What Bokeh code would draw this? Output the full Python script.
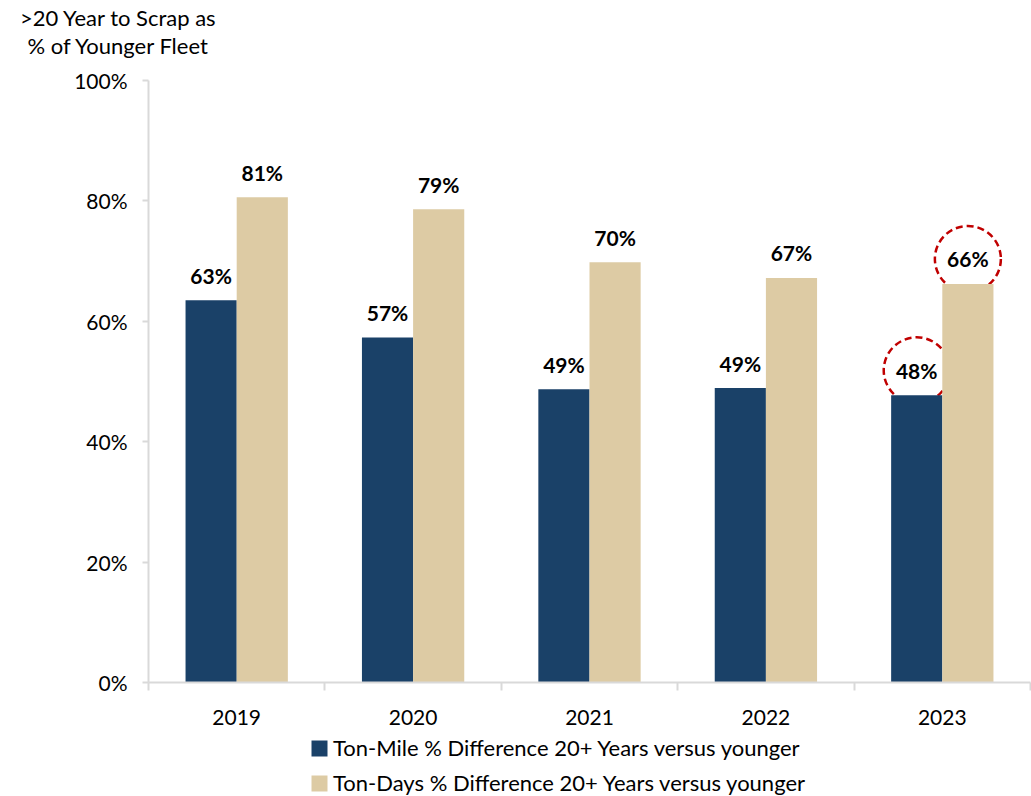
from bokeh.plotting import figure
from bokeh.models import (ColumnDataSource, LabelSet, Label, Legend, LegendItem,
                          FixedTicker, Range1d)
from bokeh.core.properties import value
from bokeh.transform import dodge
from bokeh.embed import file_html
from bokeh.resources import INLINE

# Data
years = ["2019", "2020", "2021", "2022", "2023"]
ton_mile = [63.5, 57.3, 48.7, 48.9, 47.7]
ton_days = [80.6, 78.6, 69.8, 67.2, 66.2]
ton_mile_labels = ["63%", "57%", "49%", "49%", "48%"]
ton_days_labels = ["81%", "79%", "70%", "67%", "66%"]
y_ticks = [0, 20, 40, 60, 80, 100]
highlight_year = "2023"
series_names = ["Ton-Mile % Difference 20+ Years versus younger",
                "Ton-Days % Difference 20+ Years versus younger"]
axis_title = [">20 Year to Scrap as", "% of Younger Fleet"]

NAVY = "#1A4168"
TAN = "#DDCBA4"
AXIS_GREY = "#D9D9D9"
FONT = "Lato"

# Canvas layout (px). The whole canvas is the plotting frame; the axes sit at
# fixed data locations so the title and legend can live inside the frame too.
W, H = 1031, 796
PLOT_L, PLOT_R, PLOT_T, PLOT_B = 148, 1030, 80, 682
BAR_W = 0.29
LABEL_LIFT = 25  # px between bar top and centre of its value label

n = len(years)
px_x = (PLOT_R - PLOT_L) / n          # px per category
px_y = (PLOT_B - PLOT_T) / 100.0      # px per percentage point
x_range = Range1d(-PLOT_L / px_x, n + (W - PLOT_R) / px_x)
y_range = Range1d(-(H - PLOT_B) / px_y, 100 + PLOT_T / px_y)

xs = [i + 0.5 for i in range(n)]
src = ColumnDataSource(dict(
    x=xs, year=years,
    mile=ton_mile, days=ton_days,
    mile_lab=ton_mile_labels, days_lab=ton_days_labels,
))

p = figure(
    frame_width=W, frame_height=H,
    x_range=x_range, y_range=y_range,
    output_backend="svg", toolbar_location=None,
    min_border=0,
    background_fill_color="white", border_fill_color="white",
)
p.outline_line_color = None
p.xgrid.visible = False
p.ygrid.visible = False

# Dashed highlight rings behind the latest-year labels
hi = years.index(highlight_year)
ring_src = ColumnDataSource(dict(
    x=[xs[hi] - BAR_W / 2, xs[hi] + BAR_W / 2],
    y=[ton_mile[hi] + LABEL_LIFT / px_y, ton_days[hi] + LABEL_LIFT / px_y],
))
p.scatter("x", "y", source=ring_src, marker="circle", size=66,
          fill_color="white", line_color="#C00000", line_width=2.5, line_dash="7 4")

r1 = p.vbar(x=dodge("x", -BAR_W / 2), top="mile", width=BAR_W, source=src,
            fill_color=NAVY, line_color=None)
r2 = p.vbar(x=dodge("x", BAR_W / 2), top="days", width=BAR_W, source=src,
            fill_color=TAN, line_color=None)

for col, lab, off in [("mile", "mile_lab", -BAR_W / 2), ("days", "days_lab", BAR_W / 2)]:
    p.add_layout(LabelSet(x=dodge("x", off), y=col, text=lab, source=src,
                          y_offset=LABEL_LIFT, text_align="center", text_baseline="middle",
                          text_font=value(FONT), text_font_size="21px",
                          text_font_style="bold", text_color="black"))

# Category axis pinned at 0 %, with tick marks between the years
xa = p.xaxis[0]
xa.fixed_location = 0
xa.bounds = (0, n)
xa.ticker = FixedTicker(ticks=xs, minor_ticks=list(range(n + 1)))
xa.major_label_overrides = {x: y for x, y in zip(xs, years)}
xa.major_tick_out = 0
xa.major_tick_in = 0
xa.minor_tick_out = 8
xa.minor_tick_in = 0
xa.minor_tick_line_color = AXIS_GREY
xa.minor_tick_line_width = 2
xa.axis_line_color = AXIS_GREY
xa.axis_line_width = 2
xa.major_label_standoff = 19
xa.major_label_text_font = FONT
xa.major_label_text_font_size = "21px"
xa.major_label_text_color = "black"

# Value axis pinned at the left edge of the first category
ya = p.yaxis[0]
ya.fixed_location = 0
ya.bounds = (0, 100)
ya.ticker = FixedTicker(ticks=y_ticks, minor_ticks=[])
ya.major_label_overrides = {t: f"{t}%" for t in y_ticks}
ya.major_tick_out = 6
ya.major_tick_in = 0
ya.major_tick_line_color = AXIS_GREY
ya.major_tick_line_width = 2
ya.axis_line_color = AXIS_GREY
ya.axis_line_width = 2
ya.major_label_standoff = 15
ya.major_label_text_font = FONT
ya.major_label_text_font_size = "21px"
ya.major_label_text_color = "black"

# Two-line value-axis title over the axis labels
title_x = (118 - PLOT_L) / px_x
for txt, sy in [(axis_title[0], 17), (axis_title[1], 45)]:
    p.add_layout(Label(x=title_x, y=100 + (PLOT_T - sy) / px_y, text=txt,
                       text_align="center", text_baseline="middle",
                       text_font=FONT, text_font_size="22px", text_color="black"))

legend = Legend(items=[
    LegendItem(label=series_names[0], renderers=[r1]),
    LegendItem(label=series_names[1], renderers=[r2]),
], location=(309, 0), orientation="vertical",
    glyph_width=20, glyph_height=20, label_height=20, spacing=8,
    label_text_font=FONT, label_text_font_size="22px", label_text_color="black",
    padding=0, margin=0, border_line_color=None, background_fill_alpha=0,
    label_standoff=4)
p.add_layout(legend)

open("out.html", "w").write(file_html(p, INLINE))
